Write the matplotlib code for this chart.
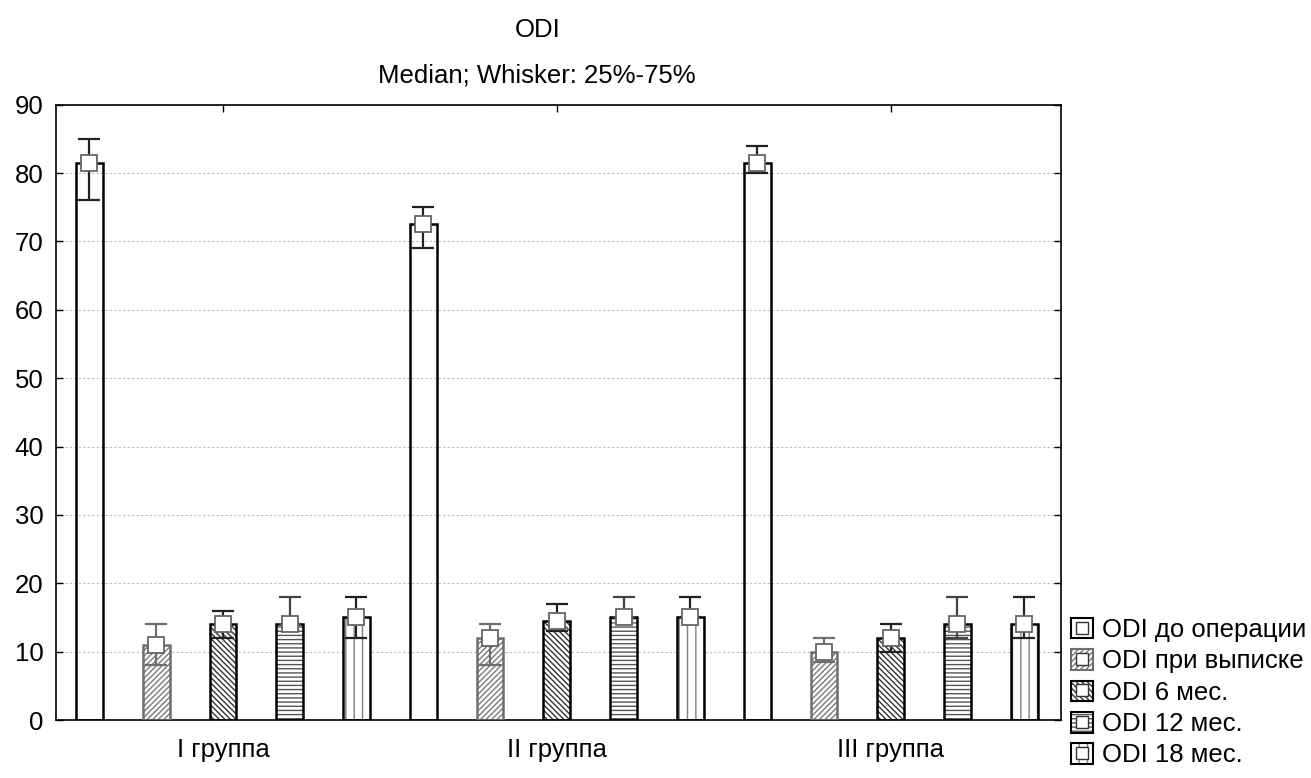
import numpy as np
import matplotlib
matplotlib.use("Agg")
import matplotlib.pyplot as plt
from matplotlib.patches import Patch
from matplotlib.lines import Line2D
from matplotlib.legend_handler import HandlerTuple

plt.rcParams['font.family'] = ['Liberation Sans', 'DejaVu Sans']

groups = ["I группа", "II группа", "III группа"]
series = ["ODI до операции", "ODI при выписке", "ODI 6 мес.", "ODI 12 мес.", "ODI 18 мес."]

# median, 25%, 75% for each series across the three groups
medians = [
    [81.5, 72.5, 81.5],
    [11.0, 12.0, 10.0],
    [14.0, 14.5, 12.0],
    [14.0, 15.0, 14.0],
    [15.0, 15.0, 14.0],
]
q25 = [
    [76.0, 69.0, 80.0],
    [8.0, 8.0, 8.5],
    [12.0, 13.0, 10.0],
    [14.0, 15.0, 12.0],
    [12.0, 15.0, 12.0],
]
q75 = [
    [85.0, 75.0, 84.0],
    [14.0, 14.0, 12.0],
    [16.0, 17.0, 14.0],
    [18.0, 18.0, 18.0],
    [18.0, 18.0, 18.0],
]

hatches = [None, '//////', '\\\\\\\\\\\\', '----', '||']
hatch_colors = ['black', '#7a7a7a', '#333333', '#555555', '#808080']
edge_colors = ['black', '#6e6e6e', 'black', 'black', 'black']
err_colors = ['#222222', '#6e6e6e', '#222222', '#444444', '#222222']

plt.rcParams['hatch.linewidth'] = 1.0

fig = plt.figure(figsize=(13.11, 7.78), dpi=100)
ax = fig.add_axes([0.0427, 0.0745, 0.7666, 0.791])

x = np.arange(len(groups))
offsets = [-0.4, -0.2, 0.0, 0.2, 0.4]
width = 0.08

handles = []
for i in range(len(series)):
    xs = x + offsets[i]
    med = np.array(medians[i])
    lo = med - np.array(q25[i])
    hi = np.array(q75[i]) - med
    if hatches[i]:
        ax.bar(xs, med, width, color='white', edgecolor=hatch_colors[i],
               hatch=hatches[i], linewidth=0, zorder=2)
    ax.bar(xs, med, width, fill=False, edgecolor=edge_colors[i],
           linewidth=1.8, zorder=3)
    ax.errorbar(xs, med, yerr=[lo, hi], fmt='none', ecolor=err_colors[i],
                elinewidth=1.6, capsize=8, capthick=1.6, zorder=4)
    ax.plot(xs, med, 's', ms=11, mfc='white', mec='#666666', mew=1.3, zorder=5)
    p = Patch(facecolor='white', edgecolor=hatch_colors[i] if hatches[i] else 'black',
              hatch=hatches[i], linewidth=0)
    frame = Patch(fill=False, edgecolor=edge_colors[i], linewidth=1.5)
    sq = Line2D([], [], marker='s', ms=8, mfc='white', mec='#333333', mew=1.0, ls='none')
    handles.append((p, frame, sq))

ax.set_xlim(-0.5, 2.51)
ax.set_ylim(0, 90)
ax.set_yticks(np.arange(0, 91, 10))
ax.set_xticks(x)
ax.set_xticklabels(groups)
ax.tick_params(direction='in', top=True, right=True, length=5, width=1,
               labelsize=18.5)
ax.tick_params(axis='x', pad=13)
ax.tick_params(axis='y', pad=9)
ax.yaxis.grid(True, linestyle=(0, (2, 2)), color='#bbbbbb', linewidth=0.8)
ax.set_axisbelow(True)
for s in ax.spines.values():
    s.set_linewidth(1.2)

fig.text(538 / 1311, 1 - 37 / 778, "ODI", ha='center', va='baseline', fontsize=18.5)
fig.text(537 / 1311, 1 - 83 / 778, "Median; Whisker: 25%-75%", ha='center',
         va='baseline', fontsize=18.5)

fig.legend(handles, series, handler_map={tuple: HandlerTuple(ndivide=1, pad=0)},
           loc='upper left', bbox_to_anchor=(1071 / 1311, 1 - 618 / 778), frameon=False,
           fontsize=18.5, handlelength=0.85, handleheight=0.85, handletextpad=0.35,
           labelspacing=0.28, borderaxespad=0, borderpad=0)

fig.savefig("out.png", dpi=100)
